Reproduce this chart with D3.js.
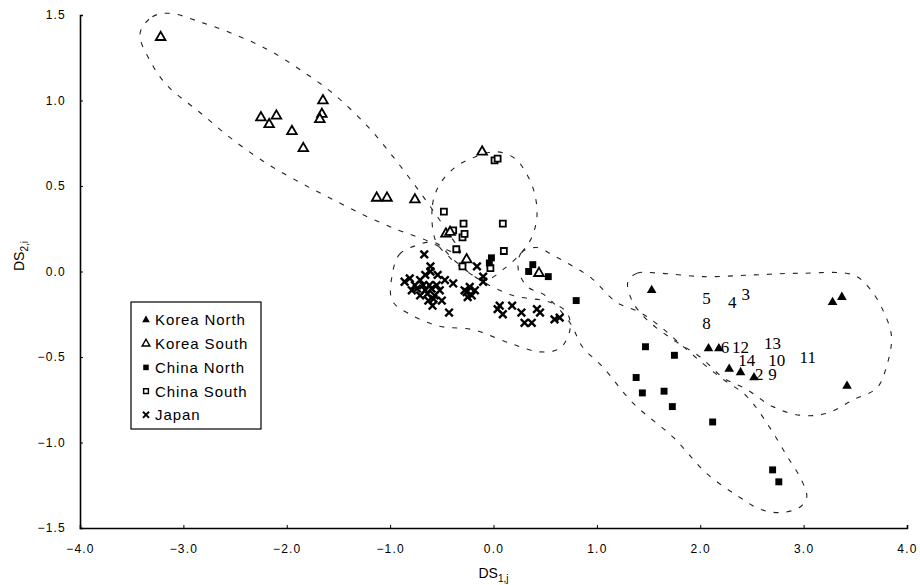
<!DOCTYPE html>
<html>
<head>
<meta charset="utf-8">
<script src="https://cdn.jsdelivr.net/npm/d3@7"></script>
<style>
  body { margin: 0; background: #fff; }
  svg { display: block; }
</style>
</head>
<body>
<svg id="chart"></svg>
<script>

// series, [DS1, DS2]
var koreaNorth = [
    [1.53, -0.11], [3.28, -0.18], [3.37, -0.15], [2.08, -0.45], [2.18, -0.45],
    [2.28, -0.57], [2.39, -0.59], [2.52, -0.62], [3.42, -0.67]
];

var koreaSouth = [
    [-3.22, 1.37], [-2.25, 0.90], [-2.17, 0.86], [-2.10, 0.91], [-1.95, 0.82],
    [-1.84, 0.72], [-1.65, 1.00], [-1.66, 0.92], [-1.68, 0.89], [-1.13, 0.43],
    [-1.03, 0.43], [-0.76, 0.42], [-0.46, 0.22], [-0.42, 0.23], [-0.11, 0.70],
    [-0.26, 0.07], [0.44, -0.01]
];

var chinaNorth = [
    [-0.02, 0.08], [-0.04, 0.05], [0.38, 0.04], [0.34, 0.00], [0.53, -0.03],
    [0.80, -0.17], [1.47, -0.44], [1.75, -0.49], [1.38, -0.62], [1.44, -0.71],
    [1.65, -0.70], [1.73, -0.79], [2.12, -0.88], [2.70, -1.16], [2.76, -1.23]
];

var chinaSouth = [
    [0.01, 0.65], [0.04, 0.66], [-0.48, 0.35], [-0.29, 0.28], [0.09, 0.28],
    [-0.39, 0.24], [-0.30, 0.20], [-0.28, 0.22], [-0.36, 0.13], [0.10, 0.12],
    [-0.03, 0.02], [-0.30, 0.03]
];

var japan = [
    [-0.67, 0.10], [-0.61, 0.03], [-0.61, 0.00], [-0.81, -0.04], [-0.76, -0.08],
    [-0.71, -0.05], [-0.66, -0.11], [-0.62, -0.08], [-0.57, -0.14], [-0.52, -0.11],
    [-0.63, -0.17], [-0.71, -0.14], [-0.59, -0.20], [-0.47, -0.05], [-0.54, -0.02],
    [-0.66, -0.02], [-0.79, -0.11], [-0.50, -0.17], [-0.86, -0.06], [-0.55, -0.08],
    [-0.64, -0.13], [-0.60, -0.10], [-0.68, -0.08], [-0.58, -0.16], [-0.74, -0.10],
    [-0.39, -0.07], [-0.28, -0.11], [-0.21, -0.14], [-0.25, -0.15], [-0.18, -0.11],
    [-0.23, -0.09], [-0.26, -0.12], [-0.43, -0.24], [-0.16, 0.03], [-0.10, -0.03],
    [-0.10, -0.06], [0.04, -0.22], [0.09, -0.25], [0.06, -0.20], [0.18, -0.20],
    [0.27, -0.24], [0.42, -0.22], [0.45, -0.24], [0.30, -0.30], [0.37, -0.30],
    [0.59, -0.28], [0.64, -0.27]
];

// numbered labels near the Korea North group
var numLabels = [
    ["5", 2.06, -0.155], ["4", 2.31, -0.18], ["3", 2.44, -0.13], ["8", 2.06, -0.30],
    ["6", 2.24, -0.44], ["12", 2.39, -0.44], ["13", 2.70, -0.42], ["14", 2.45, -0.515],
    ["10", 2.74, -0.515], ["11", 3.04, -0.50], ["2", 2.57, -0.60], ["9", 2.70, -0.60]
];

// dashed group outlines
var outlineKoreaSouth = [
    [-3.42, 1.39], [-3.30, 1.49], [-3.13, 1.51], [-2.84, 1.46], [-2.52, 1.39],
    [-2.19, 1.30], [-1.87, 1.18], [-1.55, 1.04], [-1.22, 0.85], [-0.97, 0.67],
    [-0.78, 0.52], [-0.60, 0.37], [-0.42, 0.21], [-0.32, 0.11], [-0.47, 0.13],
    [-0.64, 0.18], [-0.91, 0.24], [-1.22, 0.32], [-1.55, 0.42], [-1.87, 0.52],
    [-2.19, 0.63], [-2.52, 0.77], [-2.84, 0.93], [-3.16, 1.09], [-3.32, 1.23]
];

var outlineChinaSouth = [
    [-0.56, 0.18], [-0.59, 0.39], [-0.52, 0.51], [-0.37, 0.61], [-0.18, 0.67],
    [0.03, 0.70], [0.21, 0.66], [0.33, 0.56], [0.40, 0.45], [0.42, 0.32],
    [0.37, 0.20], [0.27, 0.11], [0.11, 0.02], [-0.08, -0.05], [-0.28, 0.01],
    [-0.42, 0.08]
];

var outlineJapan = [
    [-0.98, -0.02], [-0.91, 0.10], [-0.76, 0.15], [-0.57, 0.17], [-0.37, 0.06],
    [-0.13, -0.05], [0.19, -0.14], [0.55, -0.18], [0.71, -0.24], [0.74, -0.34],
    [0.64, -0.45], [0.45, -0.47], [0.16, -0.42], [-0.20, -0.34], [-0.52, -0.32],
    [-0.81, -0.25], [-0.98, -0.17]
];

var outlineChinaNorth = [
    [0.24, 0.01], [0.27, 0.11], [0.42, 0.14], [0.59, 0.09], [0.77, 0.03],
    [0.95, -0.04], [1.19, -0.18], [1.42, -0.24], [1.61, -0.32], [1.80, -0.42],
    [2.03, -0.54], [2.22, -0.63], [2.45, -0.73], [2.67, -0.91], [2.84, -1.08],
    [2.98, -1.22], [3.03, -1.32], [2.96, -1.38], [2.77, -1.41], [2.58, -1.39],
    [2.38, -1.32], [2.06, -1.18], [1.74, -0.97], [1.35, -0.77], [1.06, -0.56],
    [0.86, -0.44], [0.74, -0.30], [0.50, -0.14], [0.33, -0.09]
];

var outlineKoreaNorth = [
    [1.30, -0.06], [1.39, -0.01], [1.61, -0.01], [2.03, -0.03], [2.51, -0.02],
    [2.99, -0.01], [3.48, -0.02], [3.64, -0.10], [3.77, -0.23], [3.85, -0.38],
    [3.80, -0.56], [3.71, -0.68], [3.48, -0.75], [3.22, -0.83], [2.96, -0.84],
    [2.70, -0.79], [2.45, -0.69], [2.22, -0.62], [2.00, -0.50], [1.74, -0.40],
    [1.48, -0.28], [1.34, -0.17]
];

var xTicks = [-4, -3, -2, -1, 0, 1, 2, 3, 4];
var yTicks = [-1.5, -1.0, -0.5, 0, 0.5, 1.0, 1.5];
var legendNames = ["Korea North", "Korea South", "China North", "China South", "Japan"];

// Set up the SVG container
var width = 920;
var height = 585;

var svg = d3.select("#chart")
    .attr("width", width)
    .attr("height", height);

// Set up scales
var xScale = d3.scaleLinear()
    .domain([-4, 4])
    .range([80, 907]);

var yScale = d3.scaleLinear()
    .domain([-1.5, 1.5])
    .range([528, 15]);

// Outlines
var outline = d3.line()
    .x(function(d) { return xScale(d[0]); })
    .y(function(d) { return yScale(d[1]); })
    .curve(d3.curveCatmullRomClosed.alpha(0.5));

[outlineKoreaSouth, outlineChinaSouth, outlineJapan, outlineChinaNorth, outlineKoreaNorth]
    .forEach(function(pts) {
        svg.append("path")
            .attr("d", outline(pts))
            .attr("fill", "none")
            .attr("stroke", "#222")
            .attr("stroke-width", 1.1)
            .attr("stroke-dasharray", "5,8");
    });

// Marker shapes
var triPath = d3.symbol().type(d3.symbolTriangle).size(40)();
var sqPath = d3.symbol().type(d3.symbolSquare).size(48)();
var openSqPath = d3.symbol().type(d3.symbolSquare).size(36)();
var xPath = "M-3.8,-3.8L3.8,3.8M-3.8,3.8L3.8,-3.8";

function drawMarks(data, kind, g) {
    g.selectAll("path")
        .data(data)
        .enter().append("path")
        .attr("transform", function(d) {
            return "translate(" + xScale(d[0]) + "," + yScale(d[1]) + ")";
        })
        .each(function() { styleMark(d3.select(this), kind); });
}

function styleMark(sel, kind) {
    if (kind === "kn") {
        sel.attr("d", triPath).attr("fill", "#000");
    } else if (kind === "ks") {
        sel.attr("d", triPath).attr("fill", "#fff").attr("stroke", "#000").attr("stroke-width", 1.8);
    } else if (kind === "cn") {
        sel.attr("d", sqPath).attr("fill", "#000");
    } else if (kind === "cs") {
        sel.attr("d", openSqPath).attr("fill", "#fff").attr("stroke", "#000").attr("stroke-width", 1.8);
    } else {
        sel.attr("d", xPath).attr("fill", "none").attr("stroke", "#000").attr("stroke-width", 2.4);
    }
}

drawMarks(japan, "jp", svg.append("g"));
drawMarks(chinaSouth, "cs", svg.append("g"));
drawMarks(koreaSouth, "ks", svg.append("g"));
drawMarks(chinaNorth, "cn", svg.append("g"));
drawMarks(koreaNorth, "kn", svg.append("g"));

// Number labels
svg.append("g").selectAll("text")
    .data(numLabels)
    .enter().append("text")
    .attr("x", function(d) { return xScale(d[1]); })
    .attr("y", function(d) { return yScale(d[2]); })
    .attr("dy", "0.36em")
    .style("text-anchor", "middle")
    .style("font-family", "'Liberation Serif', 'Times New Roman', serif")
    .style("font-size", "17px")
    .text(function(d) { return d[0]; });

// Add x axis
var xAxis = svg.append("g")
    .attr("transform", "translate(0," + yScale(-1.5) + ")")
    .call(d3.axisBottom(xScale)
        .tickValues(xTicks)
        .tickSize(-3)
        .tickPadding(16)
        .tickFormat(d3.format(".1f")));

// Add y axis
var yAxis = svg.append("g")
    .attr("transform", "translate(" + xScale(-4) + ",0)")
    .call(d3.axisLeft(yScale)
        .tickValues(yTicks)
        .tickSize(-3)
        .tickPadding(14)
        .tickFormat(d3.format(".1f")));

[xAxis, yAxis].forEach(function(ax) {
    ax.select(".domain").attr("stroke", "#000").attr("stroke-width", 1.6);
    ax.selectAll(".tick line").attr("stroke", "#000");
    ax.selectAll("text")
        .style("font-family", "'Liberation Sans', Arial, sans-serif")
        .style("font-size", "12px")
        .style("letter-spacing", "1.2px")
        .attr("fill", "#000");
});

// Axis labels
var xLabel = svg.append("text")
    .attr("x", xScale(0))
    .attr("y", 578)
    .style("text-anchor", "middle")
    .style("font-family", "'Liberation Sans', Arial, sans-serif")
    .style("font-size", "14px");
xLabel.append("tspan").text("DS");
xLabel.append("tspan").attr("dy", "0.35em").style("font-size", "10px").text("1,j");

var yLabel = svg.append("text")
    .attr("transform", "translate(24,256) rotate(-90)")
    .style("text-anchor", "middle")
    .style("font-family", "'Liberation Sans', Arial, sans-serif")
    .style("font-size", "14px");
yLabel.append("tspan").text("DS");
yLabel.append("tspan").attr("dy", "0.35em").style("font-size", "10px").text("2,i");

// Legend
var legend = svg.append("g").attr("transform", "translate(131,302)");
legend.append("rect")
    .attr("width", 130)
    .attr("height", 127)
    .attr("fill", "#fff")
    .attr("stroke", "#000")
    .attr("stroke-width", 1.2);

var kinds = ["kn", "ks", "cn", "cs", "jp"];
legendNames.forEach(function(name, i) {
    var yy = 18 + i * 23.7;
    var mk = legend.append("path")
        .attr("transform", "translate(15," + yy + ") scale(0.8)");
    styleMark(mk, kinds[i]);
    legend.append("text")
        .attr("x", 24)
        .attr("y", yy)
        .attr("dy", "0.36em")
        .style("font-family", "'Liberation Sans', Arial, sans-serif")
        .style("font-size", "15px")
        .style("letter-spacing", "0.9px")
        .text(name);
});

</script>
</body>
</html>
